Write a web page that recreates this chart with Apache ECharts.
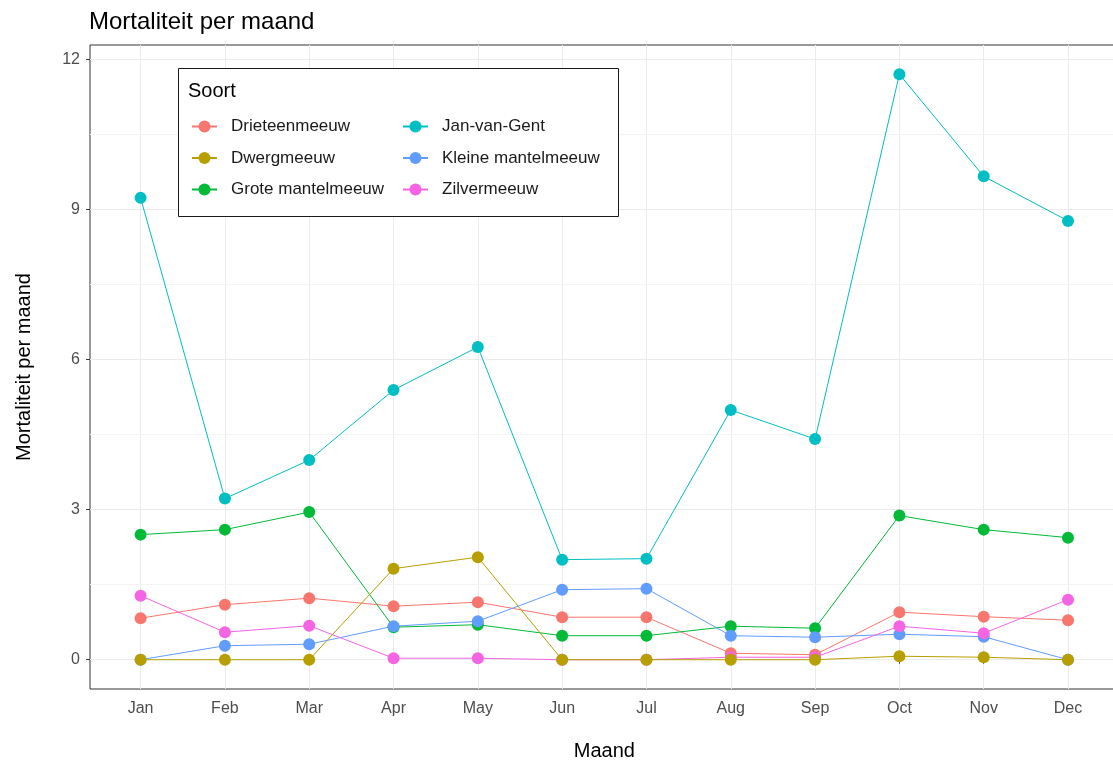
<!DOCTYPE html>
<html>
<head>
<meta charset="utf-8">
<script src="https://cdn.jsdelivr.net/npm/echarts@6/dist/echarts.min.js"></script>
<style>html,body{margin:0;padding:0;background:#fff;}#c{width:1113px;height:765px;}</style>
</head>
<body>
<div id="c"></div>
<script>
const months = ['Jan','Feb','Mar','Apr','May','Jun','Jul','Aug','Sep','Oct','Nov','Dec'];
const yTicks = [0, 3, 6, 9, 12];
const yMinor = [1.5, 4.5, 7.5, 10.5];
const speciesNames = ['Drieteenmeeuw','Dwergmeeuw','Grote mantelmeeuw','Jan-van-Gent','Kleine mantelmeeuw','Zilvermeeuw'];
const drieteenmeeuw = [0.83, 1.10, 1.23, 1.07, 1.15, 0.85, 0.85, 0.13, 0.10, 0.95, 0.86, 0.79];
const dwergmeeuw = [0, 0, 0, 1.82, 2.05, 0, 0, 0, 0, 0.07, 0.05, 0];
const groteMantelmeeuw = [2.50, 2.60, 2.95, 0.65, 0.70, 0.48, 0.48, 0.67, 0.63, 2.88, 2.60, 2.44];
const janVanGent = [9.23, 3.22, 3.99, 5.39, 6.25, 2.00, 2.02, 4.99, 4.41, 11.70, 9.66, 8.77];
const kleineMantelmeeuw = [0, 0.28, 0.31, 0.67, 0.77, 1.40, 1.42, 0.48, 0.45, 0.51, 0.46, 0];
const zilvermeeuw = [1.28, 0.55, 0.68, 0.03, 0.03, 0, 0, 0.05, 0.05, 0.67, 0.53, 1.20];
const colors = ['#F8766D','#B79F00','#00BA38','#00BFC4','#619CFF','#F564E3'];

const values = [drieteenmeeuw, dwergmeeuw, groteMantelmeeuw, janVanGent, kleineMantelmeeuw, zilvermeeuw];
const monthIdx = months.map((m, i) => i + 1);

const chart = echarts.init(document.getElementById('c'), null, {renderer: 'canvas'});

const series = speciesNames.map((name, k) => ({
  name: name,
  type: 'line',
  data: values[k].map((v, i) => [monthIdx[i], v]),
  symbol: 'circle',
  symbolSize: 12,
  showSymbol: true,
  color: colors[k],
  lineStyle: {width: 1, color: colors[k]},
  itemStyle: {color: colors[k]},
  z: name === 'Dwergmeeuw' ? 3 : 2,
  animation: false
}));

const gridLineSeries = {
  name: '__grid',
  type: 'line',
  data: [[1, 0]],
  symbol: 'none',
  showSymbol: false,
  lineStyle: {opacity: 0},
  silent: true,
  z: 0,
  animation: false,
  markLine: {
    silent: true,
    z: 0,
    symbol: ['none', 'none'],
    label: {show: false},
    animation: false,
    data: [
      ...monthIdx.map(x => ({xAxis: x, lineStyle: {color: '#EBEBEB', width: 1, type: 'solid'}})),
      ...yTicks.map(y => ({yAxis: y, lineStyle: {color: '#EBEBEB', width: 1, type: 'solid'}})),
      ...yMinor.map(y => ({yAxis: y, lineStyle: {color: '#F4F4F4', width: 1, type: 'solid'}}))
    ]
  }
};

const legendCommon = {
  orient: 'vertical',
  top: 118,
  itemWidth: 25,
  itemHeight: 15,
  itemGap: 14.5,
  padding: 0,
  z: 7,
  textStyle: {fontSize: 17, color: '#1a1a1a', fontFamily: 'Liberation Sans', padding: [0, 0, 0, 9]}
};

chart.setOption({
  animation: false,
  backgroundColor: '#ffffff',
  textStyle: {fontFamily: 'Liberation Sans'},
  title: {
    text: 'Mortaliteit per maand',
    left: 89,
    top: 10,
    padding: 0,
    textStyle: {fontSize: 24, fontWeight: 'normal', color: '#000', fontFamily: 'Liberation Sans'}
  },
  grid: {
    left: 90,
    top: 45,
    right: -5.6,
    bottom: 76,
    outerBoundsMode: 'none',
    containLabel: false,
    show: true,
    backgroundColor: '#ffffff',
    borderColor: '#333333',
    borderWidth: 1
  },
  xAxis: {
    type: 'value',
    min: 0.4,
    max: 12.6,
    name: 'Maand',
    nameLocation: 'middle',
    nameGap: 52,
    nameTextStyle: {fontSize: 20, color: '#000', fontFamily: 'Liberation Sans'},
    axisLine: {show: false},
    axisTick: {show: true, length: 4, customValues: monthIdx, lineStyle: {color: '#333333'}},
    axisLabel: {
      customValues: monthIdx,
      margin: 12,
      fontSize: 16,
      color: '#4D4D4D',
      formatter: v => months[Math.round(v) - 1] || ''
    },
    splitLine: {show: false}
  },
  yAxis: {
    type: 'value',
    min: -0.585,
    max: 12.285,
    name: 'Mortaliteit per maand',
    nameLocation: 'middle',
    nameGap: 56,
    nameRotate: 90,
    nameTextStyle: {fontSize: 20, color: '#000', fontFamily: 'Liberation Sans'},
    axisLine: {show: false},
    axisTick: {show: true, length: 4, customValues: yTicks, lineStyle: {color: '#333333'}},
    axisLabel: {
      customValues: yTicks,
      margin: 10,
      fontSize: 16,
      color: '#4D4D4D',
      formatter: v => String(v)
    },
    splitLine: {show: false}
  },
  legend: [
    Object.assign({}, legendCommon, {left: 191, data: speciesNames.slice(0, 3)}),
    Object.assign({}, legendCommon, {left: 402, data: speciesNames.slice(3, 6)})
  ],
  graphic: [
    {
      type: 'rect',
      z: 5,
      shape: {x: 178.5, y: 68.5, width: 440, height: 148},
      style: {fill: '#ffffff', stroke: '#1a1a1a', lineWidth: 1}
    },
    {
      type: 'text',
      z: 6,
      x: 188,
      y: 91,
      style: {text: 'Soort', fontSize: 20, fill: '#000', fontFamily: 'Liberation Sans', verticalAlign: 'middle'}
    }
  ],
  series: [gridLineSeries].concat(series)
});
</script>
</body>
</html>
